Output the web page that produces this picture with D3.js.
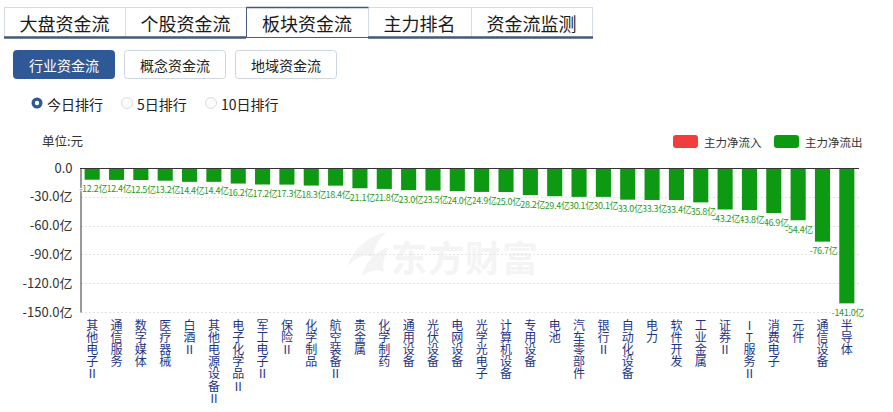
<!DOCTYPE html>
<html>
<head>
<meta charset="utf-8">
<script src="https://cdn.jsdelivr.net/npm/d3@7/dist/d3.min.js"></script>
<style>
  body { margin: 0; background: #fff; }
  svg { display: block; font-family: "Noto Sans CJK SC", "Noto Sans", sans-serif; }
</style>
</head>
<body>
<svg id="chart" width="893" height="412"></svg>
<script>
// tabs / buttons / radios
const tabs = ["大盘资金流", "个股资金流", "板块资金流", "主力排名", "资金流监测"];
const tabEdges = [4, 125, 246, 368, 471, 592];
const activeTab = 2;
const buttons = ["行业资金流", "概念资金流", "地域资金流"];
const radios = ["今日排行", "5日排行", "10日排行"];

// chart data (主力净流出, 亿)
const categories = ["其他电子Ⅱ", "通信服务", "数字媒体", "医疗器械", "白酒Ⅱ", "其他电源设备Ⅱ",
  "电子化学品Ⅱ", "军工电子Ⅱ", "保险Ⅱ", "化学制品", "航空装备Ⅱ", "贵金属", "化学制药",
  "通用设备", "光伏设备", "电网设备", "光学光电子", "计算机设备", "专用设备", "电池",
  "汽车零部件", "银行Ⅱ", "自动化设备", "电力", "软件开发", "工业金属", "证券Ⅱ",
  "IT服务Ⅱ", "消费电子", "元件", "通信设备", "半导体"];
const values = [-12.2, -12.4, -12.5, -13.2, -14.4, -14.4, -16.2, -17.2, -17.3, -18.3, -18.4,
  -21.1, -21.8, -23.0, -23.5, -24.0, -24.9, -25.0, -28.2, -29.4, -30.1, -30.1, -33.0, -33.3,
  -33.4, -35.8, -43.2, -43.8, -46.9, -54.4, -76.7, -141.0];
const yTicks = [0, -30, -60, -90, -120, -150];
const legendItems = ["主力净流入", "主力净流出"];

const svg = d3.select("#chart");

// ---- tab bar
const tabG = svg.append("g");
tabs.forEach((t, i) => {
  const x0 = tabEdges[i], x1 = tabEdges[i + 1];
  tabG.append("rect")
    .attr("x", x0 + 0.5).attr("y", 7.5)
    .attr("width", x1 - x0).attr("height", 30)
    .attr("fill", "#fff")
    .attr("stroke", i === activeTab ? "#4a5f80" : "#d3dbe6");
  tabG.append("text")
    .attr("x", (x0 + x1) / 2).attr("y", 22.5)
    .attr("text-anchor", "middle").attr("dominant-baseline", "central")
    .attr("font-size", 18).attr("fill", "#1a1a1a")
    .text(t);
});
// bottom line, broken under active tab
tabG.append("line").attr("x1", 4).attr("x2", tabEdges[activeTab]).attr("y1", 37.5).attr("y2", 37.5)
  .attr("stroke", "#44587a").attr("stroke-width", 2.5);
tabG.append("line").attr("x1", tabEdges[activeTab + 1]).attr("x2", 593).attr("y1", 37.5).attr("y2", 37.5)
  .attr("stroke", "#44587a").attr("stroke-width", 2.5);
tabG.append("line").attr("x1", tabEdges[activeTab] + 0.5).attr("x2", tabEdges[activeTab + 1] + 0.5)
  .attr("y1", 7.5).attr("y2", 7.5).attr("stroke", "#44587a").attr("stroke-width", 1.5);

// ---- sub buttons
const btnX = [13, 124, 235];
buttons.forEach((b, i) => {
  svg.append("rect")
    .attr("x", btnX[i] + 0.5).attr("y", 50.5)
    .attr("width", 101).attr("height", 28).attr("rx", 3)
    .attr("fill", i === 0 ? "#2f5896" : "#fff")
    .attr("stroke", i === 0 ? "#2f5896" : "#cdd6e2");
  svg.append("text")
    .attr("x", btnX[i] + 51).attr("y", 64.5)
    .attr("text-anchor", "middle").attr("dominant-baseline", "central")
    .attr("font-size", 14).attr("fill", i === 0 ? "#fff" : "#222")
    .text(b);
});

// ---- radios
const radioX = [37, 127, 211];
radios.forEach((r, i) => {
  if (i === 0) {
    svg.append("circle").attr("cx", radioX[i]).attr("cy", 103).attr("r", 5.5).attr("fill", "#2f5896");
    svg.append("circle").attr("cx", radioX[i]).attr("cy", 103).attr("r", 2.2).attr("fill", "#fff");
  } else {
    svg.append("circle").attr("cx", radioX[i]).attr("cy", 103).attr("r", 5.5)
      .attr("fill", "#fbfbfb").attr("stroke", "#dcdcdc");
  }
  svg.append("text")
    .attr("x", radioX[i] + 10).attr("y", 103.5)
    .attr("dominant-baseline", "central")
    .attr("font-size", 14).attr("fill", "#222")
    .text(r);
});

// ---- chart
const x = d3.scaleBand().domain(categories).range([80, 859]).paddingInner(0.38).paddingOuter(0.19);
const y = d3.scaleLinear().domain([-150, 0]).range([312, 168]);

// watermark
const wm = svg.append("g").attr("fill", "#f4f4f4");
wm.append("path")
  .attr("d", "M348,266 C354,248 368,236 386,232 C377,241 373,249 374,258 C366,252 357,257 348,266 Z");
wm.append("path")
  .attr("d", "M362,276 C366,261 375,252 389,247 C384,256 382,264 384,272 C377,268 369,271 362,276 Z");
wm.append("text")
  .attr("x", 391).attr("y", 256)
  .attr("dominant-baseline", "central")
  .attr("font-size", 36).attr("font-weight", "bold")
  .attr("letter-spacing", 1)
  .text("东方财富");

svg.append("text").attr("x", 42).attr("y", 140).attr("dominant-baseline", "central")
  .attr("font-size", 12.5).attr("fill", "#333").text("单位:元");

// grid
svg.append("g").selectAll("line").data(yTicks.filter(d => d !== 0)).join("line")
  .attr("x1", 81).attr("x2", 859)
  .attr("y1", d => Math.round(y(d)) + 0.5).attr("y2", d => Math.round(y(d)) + 0.5)
  .attr("stroke", "#e3e3e3").attr("stroke-dasharray", "2,2");

// y axis
const yAxis = d3.axisLeft(y).tickValues(yTicks).tickSize(0).tickPadding(8)
  .tickFormat(d => d === 0 ? "0.0" : d.toFixed(1) + "亿");
const yg = svg.append("g").attr("transform", "translate(80.5,0)").call(yAxis);
yg.select(".domain").attr("stroke", "#333");
yg.selectAll("text").attr("font-size", 13).attr("fill", "#333")
  .attr("font-family", "\"Noto Sans CJK SC\", sans-serif");

// bars
const green = "#0d9912";
svg.append("g").selectAll("rect").data(values).join("rect")
  .attr("x", (d, i) => x(categories[i]))
  .attr("width", x.bandwidth())
  .attr("y", d => y(Math.max(0, d)))
  .attr("height", d => Math.abs(y(d) - y(0)))
  .attr("fill", green);

// zero line
svg.append("line").attr("x1", 80).attr("x2", 859).attr("y1", y(0) + 0.5).attr("y2", y(0) + 0.5)
  .attr("stroke", "#333");

// data labels, drawn right to left so left ones sit on top
const idx = d3.range(values.length).reverse();
svg.append("g").selectAll("text").data(idx).join("text")
  .attr("x", i => x(categories[i]) + x.bandwidth() / 2 + 1)
  .attr("y", i => y(values[i]) + 9)
  .attr("text-anchor", "middle").attr("dominant-baseline", "central")
  .attr("font-size", 9).attr("letter-spacing", -0.3).attr("fill", "#1f9a22")
  .attr("stroke", "#fff").attr("stroke-width", 2).attr("paint-order", "stroke")
  .text(i => values[i].toFixed(1) + "亿");

// x labels, one char per line
const chars = [];
categories.forEach(c => c.split("").forEach((ch, j) => chars.push({ cat: c, ch, j })));
svg.append("g").selectAll("text").data(chars).join("text")
  .attr("x", d => x(d.cat) + x.bandwidth() / 2)
  .attr("y", d => 324 + d.j * 12.2)
  .attr("text-anchor", "middle").attr("dominant-baseline", "central")
  .attr("font-size", 12).attr("fill", "#1d3589")
  .text(d => d.ch);

// legend
const legColors = ["#f03d3d", green];
const legX = [673, 774];
legendItems.forEach((l, i) => {
  svg.append("rect").attr("x", legX[i]).attr("y", 135).attr("width", 25).attr("height", 13)
    .attr("rx", 3).attr("fill", legColors[i]);
  svg.append("text").attr("x", legX[i] + 31).attr("y", 141.5).attr("dominant-baseline", "central")
    .attr("font-size", 11.5).attr("fill", "#333").text(l);
});
</script>
</body>
</html>
